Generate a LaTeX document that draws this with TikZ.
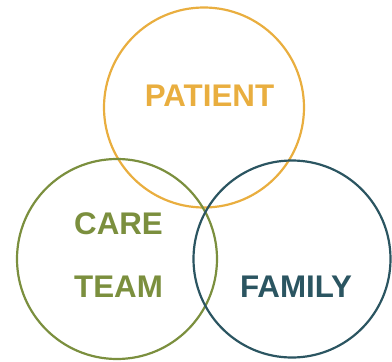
\documentclass[tikz,border=0pt]{standalone}
\usepackage{fontspec}
\setmainfont{Liberation Sans}
\definecolor{patientc}{HTML}{E9AE3F}
\definecolor{carec}{HTML}{7B8F3E}
\definecolor{familyc}{HTML}{2B5561}
\begin{document}
\begin{tikzpicture}[x=1pt,y=-1pt,
  ring/.style={circle,draw=#1,line width=2.2pt,inner sep=0pt},
  label/.style={text=#1,font=\bfseries\fontsize{31.3}{35}\selectfont,inner sep=0pt}]
  \useasboundingbox (0,0) rectangle (392,362);
  % the three overlapping circles
  \node[ring=patientc,minimum size=200pt] (patient) at (204,107.5) {};
  \node[ring=carec,minimum size=200pt] (care) at (117,259) {};
  \node[ring=familyc,minimum size=197pt] (family) at (292,259) {};
  % labels
  \node[label=patientc] (tpatient) at (209.5,95.5) {PATIENT};
  \node[label=carec] (tcare) at (118.5,223.5) {CARE};
  \node[label=carec] (tteam) at (118.5,287) {TEAM};
  \node[label=familyc] (tfamily) at (296,287) {FAMILY};
\end{tikzpicture}
\end{document}
